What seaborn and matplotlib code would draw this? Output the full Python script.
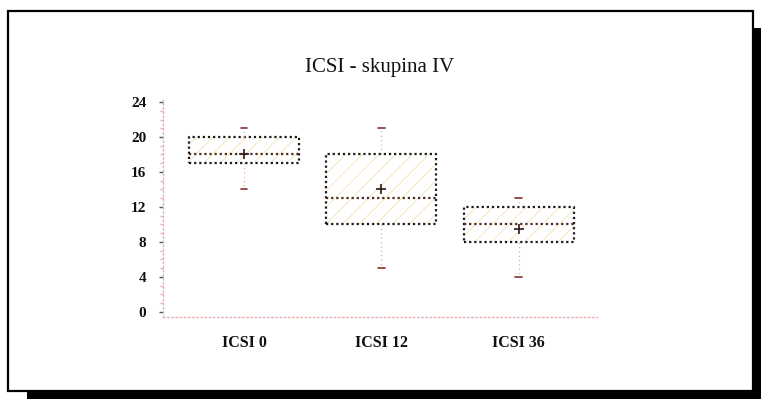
import matplotlib
matplotlib.use("Agg")
import matplotlib.pyplot as plt
import pandas as pd
import seaborn as sns
from matplotlib.patches import Rectangle
from matplotlib.ticker import MultipleLocator

# Five-number summaries and means per group
groups = ["ICSI 0", "ICSI 12", "ICSI 36"]
minimum = [14, 5, 4]
lower_quartile = [17, 10, 8]
median = [18, 13, 10]
upper_quartile = [20, 18, 12]
maximum = [21, 21, 13]
mean = [18, 14, 9.5]
y_ticks = [0, 4, 8, 12, 16, 20, 24]
title = "ICSI - skupina IV"

rows = []
for g, lo, q1, md, q3, hi in zip(groups, minimum, lower_quartile, median,
                                 upper_quartile, maximum):
    for v in (lo, q1, md, q3, hi):
        rows.append({"skupina": g, "hodnota": v})
df = pd.DataFrame(rows)

sns.set_theme(style="white")
plt.rcParams["font.family"] = ["Liberation Serif", "DejaVu Serif"]
plt.rcParams["hatch.linewidth"] = 0.6

fig = plt.figure(figsize=(7.61, 3.99), dpi=100)
fig.patch.set_facecolor("white")
ax = fig.add_axes([0.2142, 0.2055, 0.5703, 0.5431])
ax.set_facecolor("white")

# faint hatched fill of the boxes
sns.boxplot(data=df, x="skupina", y="hodnota", order=groups, whis=(0, 100),
            width=0.8, color="white", linewidth=0, showcaps=False,
            whiskerprops=dict(visible=False), medianprops=dict(visible=False),
            ax=ax)
for p in ax.patches:
    p.set_facecolor("white")
    p.set_edgecolor("#f6e0b4")
    p.set_hatch("//")
    p.set_linewidth(0)

# dotted outlines, medians, whiskers and caps
dot = (0, (1, 1.3))
sns.boxplot(data=df, x="skupina", y="hodnota", order=groups, whis=(0, 100),
            width=0.8, fill=False, color="#1a1a1a", linewidth=1.6,
            boxprops=dict(linestyle=dot, color="#1a1a1a"),
            medianprops=dict(color="#4a2a1a", linestyle=dot, linewidth=1.6),
            whiskerprops=dict(color="#e8a8a8", linestyle=(0, (1, 2.5)), linewidth=0.9),
            capprops=dict(color="#8a3030", linewidth=1.2),
            capwidths=0.05, ax=ax)

# group means
sns.pointplot(x=groups, y=mean, order=groups, linestyle="none", markers="+",
              color="#2a1a1a", markersize=7, markeredgewidth=1.2,
              errorbar=None, ax=ax)

ax.set_xlim(-0.59, 2.57)
ax.set_ylim(-0.6, 24.2)
ax.set_yticks(y_ticks)
ax.yaxis.set_minor_locator(MultipleLocator(1))
ax.set_xlabel("")
ax.set_ylabel("")
for s in ("top", "right"):
    ax.spines[s].set_visible(False)
for s in ("left", "bottom"):
    ax.spines[s].set_color("#eab0b0")
    ax.spines[s].set_linestyle((0, (1, 2)))
    ax.spines[s].set_linewidth(1.0)
ax.tick_params(axis="y", which="major", length=3, width=1, color="#555555",
               pad=9, labelsize=11, labelcolor="#111111", left=True)
ax.tick_params(axis="y", which="minor", length=2, width=1, color="#f0b0b0", left=True)
ax.tick_params(axis="x", length=0, pad=13, labelsize=11.5, labelcolor="#111111")
for lab in ax.get_yticklabels() + ax.get_xticklabels():
    lab.set_fontweight("bold")

fig.text(0.4993, 0.832, title, ha="center", va="center", fontsize=15,
         color="#111111")

# framed panel with drop shadow
W, H = 761, 399
fig.add_artist(Rectangle((8 / W, 1 - 391 / H), (753 - 8) / W, (391 - 11) / H,
                         transform=fig.transFigure, fill=False,
                         edgecolor="black", linewidth=1.6))
fig.add_artist(Rectangle((753 / W, 0), (W - 753) / W, 1 - 28 / H,
                         transform=fig.transFigure, facecolor="black",
                         edgecolor="none"))
fig.add_artist(Rectangle((27 / W, 0), (W - 27) / W, (H - 391) / H,
                         transform=fig.transFigure, facecolor="black",
                         edgecolor="none"))

fig.savefig("out.png", dpi=100, facecolor="white")
